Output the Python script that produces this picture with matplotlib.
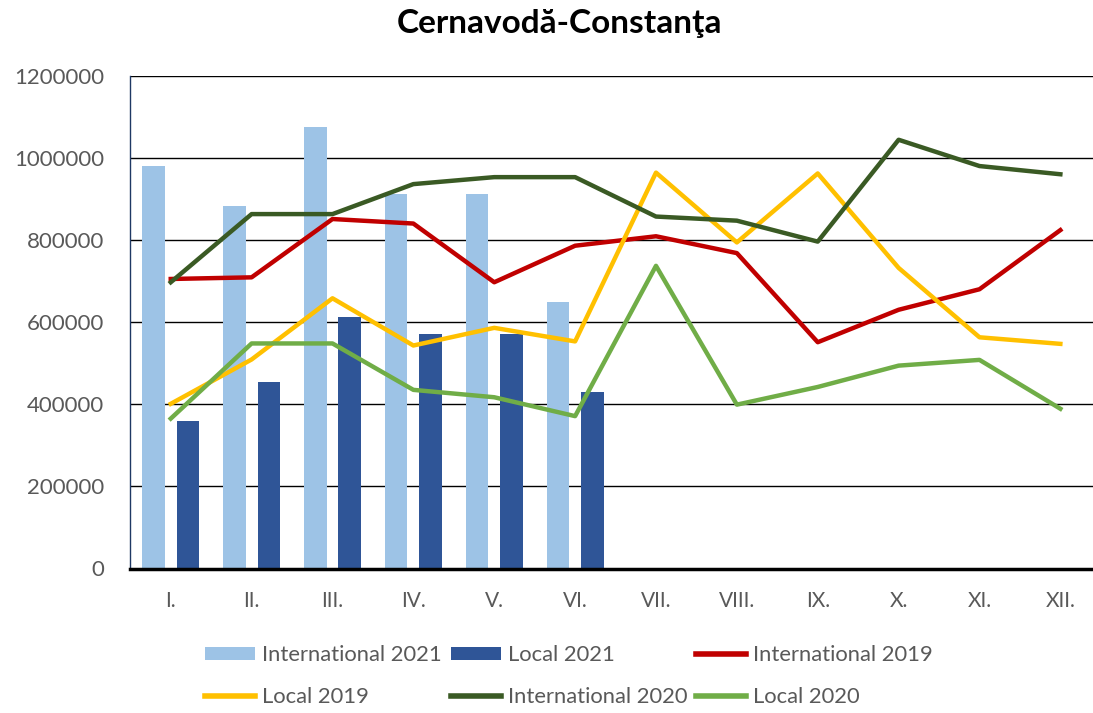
import numpy as np
import matplotlib
matplotlib.use("Agg")
from matplotlib import pyplot as plt
from matplotlib.patches import Patch
from matplotlib.lines import Line2D

months = ["I.", "II.", "III.", "IV.", "V.", "VI.", "VII.", "VIII.", "IX.", "X.", "XI.", "XII."]

# bars, 2021 (only first half of the year)
intl_2021 = [980000, 883000, 1074000, 912000, 912000, 650000]
local_2021 = [358000, 454000, 612000, 572000, 572000, 429000]

# lines
intl_2019 = [705000, 709000, 851000, 840000, 697000, 786000, 809000, 768000, 551000, 630000, 680000, 824000]
local_2019 = [401000, 509000, 658000, 543000, 586000, 553000, 964000, 794000, 962000, 732000, 563000, 547000]
intl_2020 = [697000, 863000, 863000, 936000, 953000, 953000, 857000, 847000, 796000, 1044000, 980000, 960000]
local_2020 = [365000, 548000, 548000, 435000, 417000, 371000, 737000, 399000, 442000, 494000, 508000, 389000]

plt.rcParams['font.family'] = ['Lato', 'DejaVu Sans']

fig = plt.figure(figsize=(10.93, 7.13), dpi=100)
# plot area runs a bit past the right edge, like the cropped original
ax = fig.add_axes([130.3 / 1093, 1 - 568.5 / 713, 970.5 / 1093, (568.5 - 75.7) / 713])

x = np.arange(len(months))
xb = np.arange(len(intl_2021))
bw = 0.28
ax.bar(xb - 0.213, intl_2021, width=bw, color='#9DC3E6', zorder=2)
ax.bar(xb + 0.213, local_2021, width=bw, color='#2F5597', zorder=2)

lw = 3.2
ax.plot(x, intl_2019, color='#C00000', lw=lw, zorder=3)
ax.plot(x, local_2019, color='#FFC000', lw=lw, zorder=3)
ax.plot(x, intl_2020, color='#3A5A24', lw=lw, zorder=3)
ax.plot(x, local_2020, color='#70AD47', lw=lw, zorder=3)

ax.set_xlim(-0.5, 11.5)
ax.set_ylim(0, 1200000)
ax.set_yticks(range(0, 1200001, 200000))
ax.set_yticklabels([str(v) for v in range(0, 1200001, 200000)])
ax.set_xticks(x)
ax.set_xticklabels(months)
ax.yaxis.grid(True, color='black', lw=1.0, zorder=1)
ax.set_axisbelow(True)
ax.tick_params(axis='y', length=0, pad=19, labelsize=16, labelcolor='#595959')
ax.tick_params(axis='x', length=0, pad=16, labelsize=15, labelcolor='#595959')

for s in ['top', 'right']:
    ax.spines[s].set_visible(False)
ax.spines['left'].set_color('#1F3864')
ax.spines['left'].set_linewidth(1.0)
ax.spines['bottom'].set_color('black')
ax.spines['bottom'].set_linewidth(2.5)
ax.spines['bottom'].set_zorder(4)

fig.text(559 / 1093, 1 - 23 / 713, "Cernavodă-Constanţa", ha='center', va='center',
         fontsize=24, fontweight='bold')

# legend: Excel fills row by row, matplotlib column by column
h_i21 = Patch(facecolor='#9DC3E6', label='International 2021')
h_l21 = Patch(facecolor='#2F5597', label='Local 2021')
h_i19 = Line2D([], [], color='#C00000', lw=4, label='International 2019')
h_l19 = Line2D([], [], color='#FFC000', lw=4, label='Local 2019')
h_i20 = Line2D([], [], color='#3A5A24', lw=4, label='International 2020')
h_l20 = Line2D([], [], color='#70AD47', lw=4, label='Local 2020')
handles = [h_i21, h_l19, h_l21, h_i20, h_i19, h_l20]
fig.legend(handles=handles, ncol=3, loc='center', bbox_to_anchor=(569 / 1093, 1 - 676 / 713),
           frameon=False, fontsize=15.8, labelcolor='#595959',
           handlelength=2.28, handleheight=0.55, handletextpad=0.32,
           columnspacing=0.41, labelspacing=1.0, borderpad=0)

fig.savefig("out.png", dpi=100)
